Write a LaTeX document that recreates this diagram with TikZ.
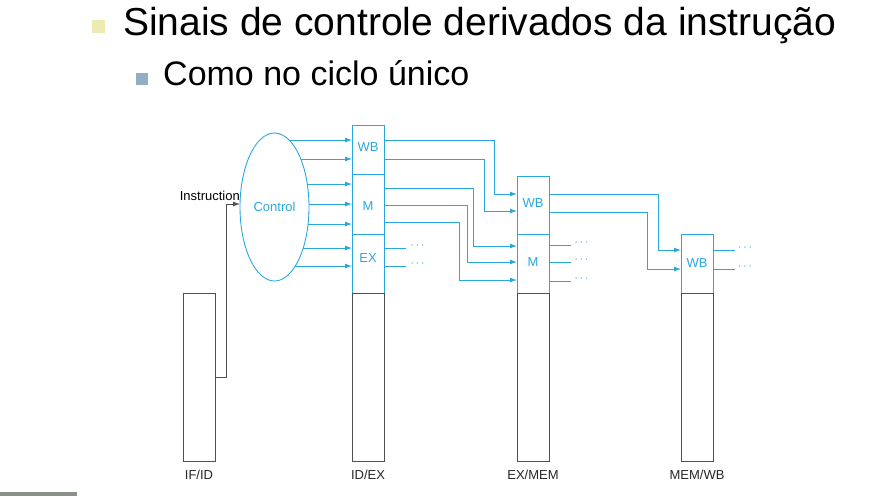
\documentclass[tikz,border=0pt]{standalone}
\usepackage{fontspec}
\setmainfont{Liberation Sans}
\usetikzlibrary{shapes.geometric,arrows.meta,calc}
\definecolor{cblue}{RGB}{41,168,224}
\definecolor{rgray}{RGB}{80,80,80}
\definecolor{yel}{RGB}{238,235,178}
\definecolor{bgr}{RGB}{147,174,194}
\definecolor{barc}{RGB}{138,145,136}
\begin{document}
\begin{tikzpicture}[x=1pt,y=-1pt,
  sec/.style={draw=cblue, line width=0.9pt, minimum width=32, inner sep=0, outer sep=0},
  low/.style={draw=rgray, line width=0.9pt, minimum width=32, minimum height=168, inner sep=0, outer sep=0},
  lbl/.style={font=\fontsize{13}{15}\selectfont, text=cblue, inner sep=0},
  blab/.style={font=\fontsize{13}{15}\selectfont, text=black!85, inner sep=0},
  dots/.style={font=\fontsize{13}{15}\selectfont, text=cblue, inner sep=0},
  sig/.style={draw=cblue, line width=0.9pt, -{Latex[length=7pt,width=5pt]}},
  wire/.style={draw=cblue, line width=0.9pt}]
\useasboundingbox (0,0) rectangle (882,496);

% title
\node[fill=yel, minimum size=13, inner sep=0] (b1) at (98.5,26.5) {};
\node[anchor=base west, font=\fontsize{39}{45}\selectfont, inner sep=0] (t1) at (123,35) {Sinais de controle derivados da instrução};
\node[fill=bgr, minimum size=12, inner sep=0] (b2) at (142,79) {};
\node[anchor=base west, font=\fontsize{34}{40}\selectfont, inner sep=0] (t2) at (163,85) {Como no ciclo único};
\node[fill=barc, minimum width=77, minimum height=4, inner sep=0, anchor=north west] (bar) at (0,492) {};

% control
\node[ellipse, draw=cblue, line width=0.9pt, minimum width=69, minimum height=148, inner sep=0, font=\fontsize{13}{15}\selectfont, text=cblue] (ctrl) at (274.5,207) {Control};

% registers
\node[sec, minimum height=49] (idexWB) at (368,149.5) {};
\node[sec, minimum height=60] (idexM) at (368,204) {};
\node[sec, minimum height=59] (idexEX) at (368,263.5) {};
\node[low] (idexB) at (368,377) {};

\node[sec, minimum height=58] (exmemWB) at (533,205) {};
\node[sec, minimum height=59] (exmemM) at (533,263.5) {};
\node[low] (exmemB) at (533,377) {};

\node[sec, minimum height=59] (memwbWB) at (697,263.5) {};
\node[low] (memwbB) at (697,377) {};

\node[low] (ifid) at (199,377) {};

% section labels
\node[lbl] (l1) at (368,147) {WB};
\node[lbl] (l2) at (368,206) {M};
\node[lbl] (l3) at (368,258) {EX};
\node[lbl] (l4) at (533,203) {WB};
\node[lbl] (l5) at (533,262) {M};
\node[lbl] (l6) at (697,263) {WB};

% bottom labels
\node[blab] (n1) at (199,475) {IF/ID};
\node[blab] (n2) at (368,475) {ID/EX};
\node[blab] (n3) at (533,475) {EX/MEM};
\node[blab] (n4) at (697,475) {MEM/WB};

% instruction
\node[anchor=east, font=\fontsize{13}{15}\selectfont, inner sep=0] (instr) at (240,196) {Instruction};
\draw[draw=rgray, line width=0.9pt, -{Latex[length=7pt,width=5pt]}] (ifid.east |- 0,377) -| (226,204) -- ($(ctrl.center)+({-34.5*sqrt(1-(3/74)^2)},-3)$);

% control outputs
\foreach \yy/\tg in {140/idexWB,159/idexWB,184/idexM,204/idexM,224/idexM,248/idexEX,266/idexEX}
  \draw[sig] ($(ctrl.center)+({34.5*sqrt(1-((\yy-207)/74)^2)},{\yy-207})$) -- (\tg.west |- 0,\yy);

% ID/EX to EX/MEM
\draw[sig] (idexWB.east |- 0,140) -| (494,194) -- (exmemWB.west |- 0,194);
\draw[sig] (idexWB.east |- 0,159) -| (484,211) -- (exmemWB.west |- 0,211);
\draw[sig] (idexM.east |- 0,188) -| (473,246) -- (exmemM.west |- 0,246);
\draw[sig] (idexM.east |- 0,205) -| (467,262) -- (exmemM.west |- 0,262);
\draw[sig] (idexM.east |- 0,222) -| (459,280) -- (exmemM.west |- 0,280);

% EX outputs
\node[dots] (d1) at (417.5,246) {$\cdots$};
\node[dots] (d2) at (417.5,264) {$\cdots$};
\draw[wire] (idexEX.east |- 0,248) -- ([xshift=-4pt]d1.west |- 0,248);
\draw[wire] (idexEX.east |- 0,266) -- ([xshift=-4pt]d2.west |- 0,266);

% EX/MEM to MEM/WB
\draw[sig] (exmemWB.east |- 0,194) -| (658,250) -- (memwbWB.west |- 0,250);
\draw[sig] (exmemWB.east |- 0,212) -| (647,269) -- (memwbWB.west |- 0,269);

% EX/MEM M outputs
\node[dots] (d3) at (581.5,243) {$\cdots$};
\node[dots] (d4) at (581.5,260) {$\cdots$};
\node[dots] (d5) at (581.5,279) {$\cdots$};
\draw[wire] (exmemM.east |- 0,245) -- ([xshift=-3pt]d3.west |- 0,245);
\draw[wire] (exmemM.east |- 0,262) -- ([xshift=-3pt]d4.west |- 0,262);
\draw[wire] (exmemM.east |- 0,281) -- ([xshift=-3pt]d5.west |- 0,281);

% MEM/WB outputs
\node[dots] (d6) at (745,248) {$\cdots$};
\node[dots] (d7) at (745,267) {$\cdots$};
\draw[wire] (memwbWB.east |- 0,250) -- ([xshift=-3pt]d6.west |- 0,250);
\draw[wire] (memwbWB.east |- 0,269) -- ([xshift=-3pt]d7.west |- 0,269);
\end{tikzpicture}
\end{document}
